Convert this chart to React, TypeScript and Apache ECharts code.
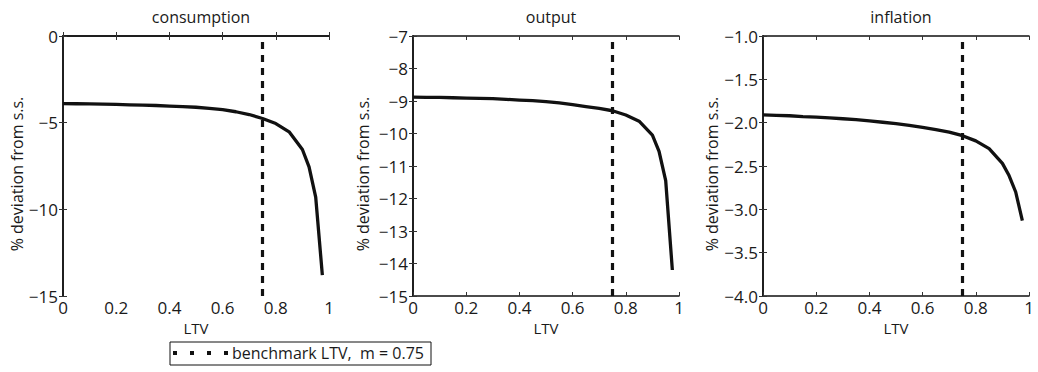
import React, { useEffect, useRef } from "react";
import * as echarts from "echarts";

const ltv = [0, 0.05, 0.1, 0.15, 0.2, 0.25, 0.3, 0.35, 0.4, 0.45, 0.5, 0.55, 0.6, 0.65, 0.7, 0.75, 0.8, 0.85, 0.9, 0.925, 0.95, 0.975];
const consumption = [-3.9, -3.91, -3.92, -3.93, -3.95, -3.97, -3.99, -4.01, -4.04, -4.07, -4.11, -4.17, -4.25, -4.37, -4.53, -4.76, -5.05, -5.53, -6.55, -7.55, -9.29, -13.8];
const output = [-8.88, -8.89, -8.89, -8.9, -8.91, -8.92, -8.93, -8.95, -8.97, -8.99, -9.02, -9.06, -9.11, -9.17, -9.23, -9.3, -9.43, -9.62, -10.05, -10.55, -11.45, -14.2];
const inflation = [-1.91, -1.915, -1.92, -1.93, -1.935, -1.945, -1.955, -1.965, -1.98, -1.995, -2.01, -2.03, -2.055, -2.08, -2.11, -2.15, -2.21, -2.3, -2.47, -2.61, -2.8, -3.13];

const panelTitles = ["consumption", "output", "inflation"];
const yMin = [-15, -15, -4];
const yMax = [0, -7, -1];
const yInterval = [5, 1, 0.5];
const yDecimals = [0, 0, 1];
const benchmark = 0.75;
const legendLabel = "benchmark LTV,  m = 0.75";

const FONT = "Open Sans";
const TXT = "#1a1a1a";

export default function App() {
  const ref = useRef<HTMLDivElement>(null);
  useEffect(() => {
    document.body.style.margin = "0";
    const chart = echarts.init(ref.current!, null, { renderer: "svg" });
    const lefts = [63, 413, 763];
    const W = 266;
    const yNameGaps = [38, 42, 43];
    const seriesData = [consumption, output, inflation];

    const grid: any[] = [];
    const xAxis: any[] = [];
    const yAxis: any[] = [];
    const series: any[] = [];
    const title: any[] = [];

    const axLine = { show: true, lineStyle: { color: "#111", width: 1.5 } };
    const tick = { show: true, inside: true, length: 4, lineStyle: { color: "#333", width: 1 } };

    for (let i = 0; i < 3; i++) {
      grid.push({ left: lefts[i], width: W, top: 36, height: 260, containLabel: false });
      title.push({
        text: panelTitles[i],
        left: lefts[i] + W / 2,
        top: 4,
        textAlign: "center",
        textStyle: { fontFamily: FONT, fontSize: 16, fontWeight: "normal", color: TXT },
      });
      xAxis.push({
        type: "value",
        gridIndex: i,
        min: 0,
        max: 1,
        interval: 0.2,
        position: "bottom",
        name: "LTV",
        nameLocation: "middle",
        nameGap: 16,
        nameTextStyle: { fontFamily: FONT, fontSize: 15, color: TXT },
        axisLine: axLine,
        axisTick: tick,
        splitLine: { show: false },
        axisLabel: {
          fontFamily: FONT,
          fontSize: 17,
          color: TXT,
          margin: 3,
          formatter: (v: number) => String(Math.round(v * 10) / 10),
        },
      });
      xAxis.push({
        type: "value",
        gridIndex: i,
        min: 0,
        max: 1,
        interval: 0.2,
        position: "top",
        axisLine: axLine,
        axisTick: tick,
        axisLabel: { show: false },
        splitLine: { show: false },
      });
      const d = yDecimals[i];
      yAxis.push({
        type: "value",
        gridIndex: i,
        min: yMin[i],
        max: yMax[i],
        interval: yInterval[i],
        position: "left",
        name: "% deviation from s.s.",
        nameLocation: "middle",
        nameGap: yNameGaps[i],
        nameTextStyle: { fontFamily: FONT, fontSize: 16, color: TXT, padding: [0, 16, 0, 0] },
        axisLine: axLine,
        axisTick: tick,
        splitLine: { show: false },
        axisLabel: {
          fontFamily: FONT,
          fontSize: 17,
          color: TXT,
          margin: 5,
          formatter: (v: number) => {
            const s = v.toFixed(d);
            return s === "0" || s === "-0" ? "0" : s.replace("-", "\u2212");
          },
        },
      });
      yAxis.push({
        type: "value",
        gridIndex: i,
        min: yMin[i],
        max: yMax[i],
        interval: yInterval[i],
        position: "right",
        axisLine: axLine,
        axisTick: tick,
        axisLabel: { show: false },
        splitLine: { show: false },
      });
      series.push({
        type: "line",
        name: legendLabel,
        xAxisIndex: 2 * i,
        yAxisIndex: 2 * i,
        symbol: "none",
        data: [
          [benchmark, yMin[i]],
          [benchmark, yMax[i]],
        ],
        lineStyle: { color: "#111", width: 3.2, type: [7, 6] },
        z: 3,
      });
      series.push({
        type: "line",
        name: panelTitles[i],
        xAxisIndex: 2 * i,
        yAxisIndex: 2 * i,
        symbol: "none",
        data: ltv.map((x, k) => [x, seriesData[i][k]]),
        lineStyle: { color: "#111", width: 3.3 },
        z: 4,
      });
    }

    chart.setOption({
      animation: false,
      backgroundColor: "#fff",
      title,
      grid,
      xAxis,
      yAxis,
      series,
      graphic: [
        {
          type: "rect",
          shape: { x: 170, y: 342, width: 261, height: 23 },
          style: { fill: "#fff", stroke: "#111", lineWidth: 1 },
        },
        {
          type: "line",
          shape: { x1: 173, y1: 353, x2: 229, y2: 353 },
          style: { stroke: "#111", lineWidth: 4, lineDash: [4, 13] },
        },
        {
          type: "text",
          x: 232,
          y: 353,
          style: {
            text: legendLabel,
            fontFamily: FONT,
            fontSize: 16,
            fill: TXT,
            textVerticalAlign: "middle",
            verticalAlign: "middle",
          },
        },
      ],
    });
    return () => chart.dispose();
  }, []);
  return <div ref={ref} style={{ width: 1038, height: 372 }} />;
}
